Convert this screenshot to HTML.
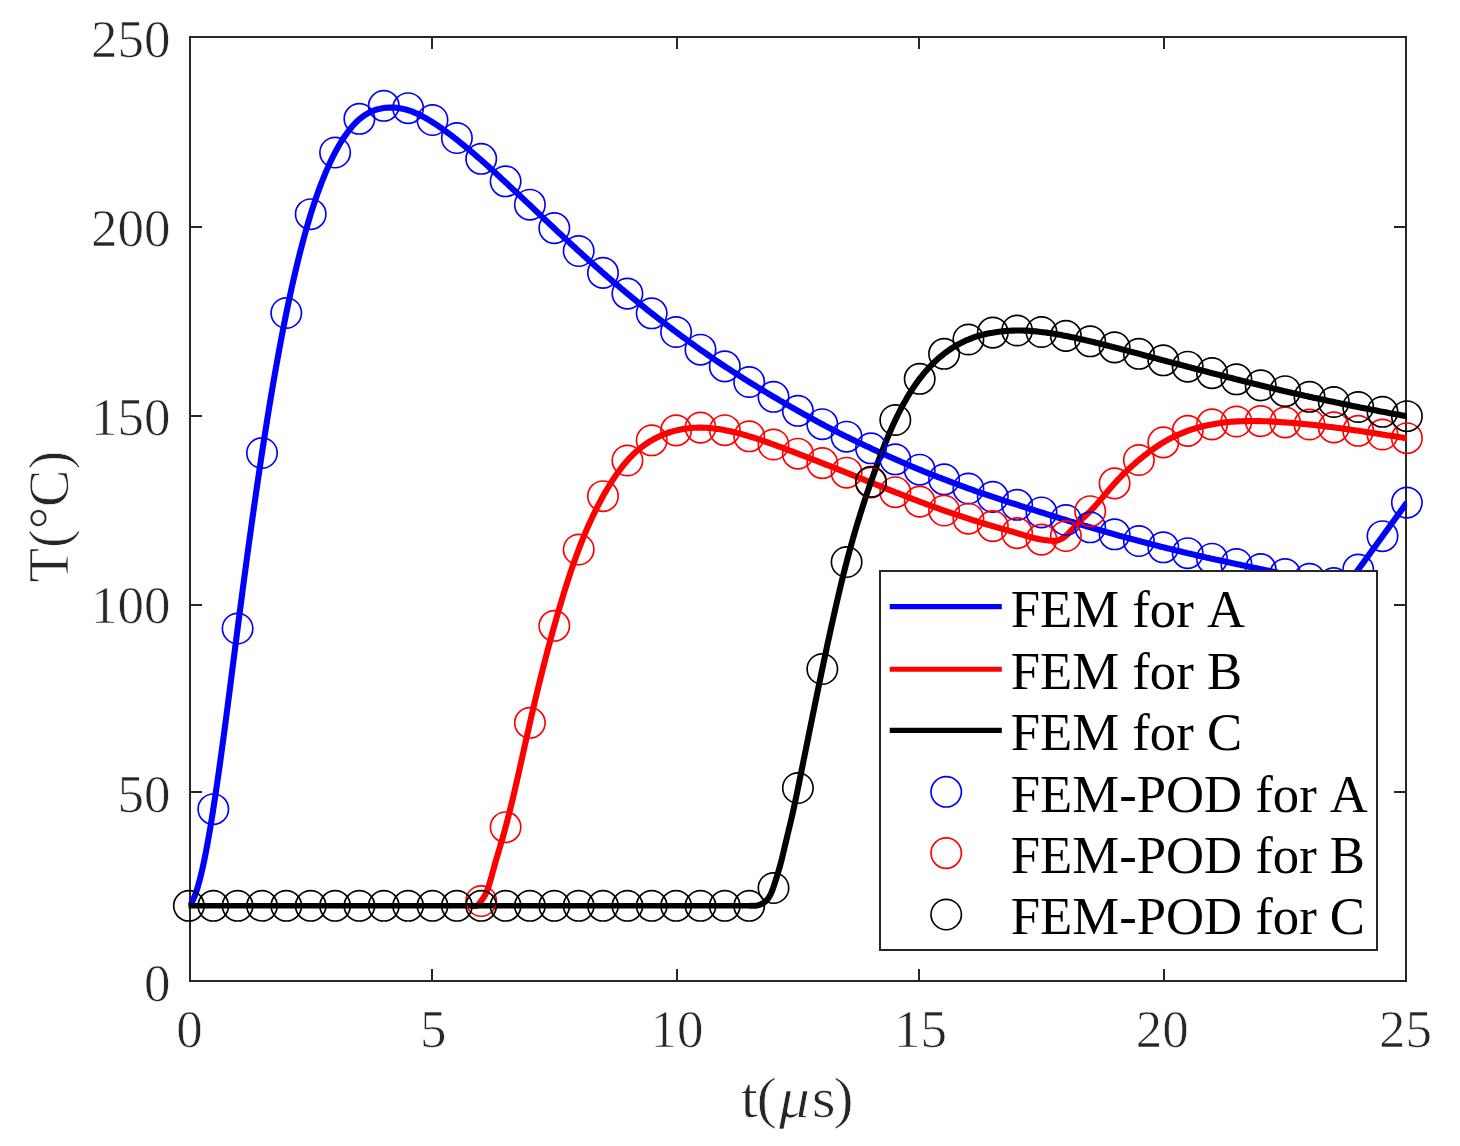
<!DOCTYPE html>
<html lang="en"><head><meta charset="utf-8"><title>T vs t</title>
<style>html,body{margin:0;padding:0;background:#fff}body{width:1460px;height:1146px;overflow:hidden}</style>
</head><body>
<svg width="1460" height="1146" viewBox="0 0 1460 1146" style="display:block;font-kerning:none">
<rect width="1460" height="1146" fill="#fff"/>
<defs><clipPath id="c"><rect x="188.5" y="37" width="1218.6" height="944"/></clipPath><clipPath id="c2"><rect x="170" y="37" width="1256" height="944"/></clipPath></defs>
<g stroke="#262626" stroke-width="2" fill="none" shape-rendering="crispEdges">
<rect x="190" y="37" width="1216" height="944"/>
<line x1="432" y1="981" x2="432" y2="969"/><line x1="432" y1="37" x2="432" y2="49"/>
<line x1="677" y1="981" x2="677" y2="969"/><line x1="677" y1="37" x2="677" y2="49"/>
<line x1="919" y1="981" x2="919" y2="969"/><line x1="919" y1="37" x2="919" y2="49"/>
<line x1="1164" y1="981" x2="1164" y2="969"/><line x1="1164" y1="37" x2="1164" y2="49"/>
<line x1="190" y1="792" x2="202" y2="792"/><line x1="1406" y1="792" x2="1394" y2="792"/>
<line x1="190" y1="605" x2="202" y2="605"/><line x1="1406" y1="605" x2="1394" y2="605"/>
<line x1="190" y1="416" x2="202" y2="416"/><line x1="1406" y1="416" x2="1394" y2="416"/>
<line x1="190" y1="227" x2="202" y2="227"/><line x1="1406" y1="227" x2="1394" y2="227"/>
</g>
<g clip-path="url(#c)" fill="none" stroke-width="6.1" stroke-linejoin="round">
<path d="M188.9,906.0 L190.4,904.4 L191.9,902.1 L193.4,899.1 L194.9,895.5 L196.4,891.3 L197.9,886.5 L199.4,881.2 L200.9,875.3 L202.4,868.9 L203.9,862.0 L205.4,854.6 L206.9,846.8 L208.4,838.5 L209.9,829.9 L211.4,820.9 L212.9,811.5 L214.4,801.8 L215.9,791.8 L217.4,781.6 L218.9,771.1 L220.4,760.3 L221.9,749.4 L223.4,738.3 L224.9,727.0 L226.4,715.6 L227.9,704.1 L229.4,692.5 L230.9,680.8 L232.4,669.1 L233.9,657.4 L235.4,645.7 L236.9,634.1 L238.4,622.5 L239.9,611.0 L241.4,599.5 L242.9,588.2 L244.4,576.9 L245.9,565.8 L247.4,554.7 L248.9,543.7 L250.4,532.9 L251.9,522.1 L253.4,511.5 L254.9,500.9 L256.4,490.5 L257.9,480.3 L259.4,470.1 L260.9,460.1 L262.4,450.3 L263.9,440.5 L265.4,431.0 L266.9,421.5 L268.4,412.2 L269.9,403.1 L271.4,394.1 L272.9,385.3 L274.4,376.6 L275.9,368.0 L277.4,359.7 L278.9,351.4 L280.4,343.4 L281.9,335.5 L283.4,327.7 L284.9,320.1 L286.4,312.7 L287.9,305.4 L289.4,298.3 L290.9,291.4 L292.4,284.6 L293.9,278.0 L295.4,271.5 L296.9,265.2 L298.4,259.1 L299.9,253.1 L301.4,247.2 L302.9,241.5 L304.4,236.0 L305.9,230.5 L307.4,225.3 L308.9,220.2 L310.4,215.2 L311.9,210.4 L313.4,205.7 L314.9,201.2 L316.4,196.8 L317.9,192.5 L319.4,188.4 L320.9,184.4 L322.4,180.5 L323.9,176.8 L325.4,173.1 L326.9,169.6 L328.4,166.2 L329.9,162.9 L331.4,159.8 L332.9,156.7 L334.4,153.8 L335.9,150.9 L337.4,148.2 L338.9,145.5 L340.4,143.0 L341.9,140.6 L343.4,138.2 L344.9,136.0 L346.4,133.9 L347.9,131.8 L349.4,129.9 L350.9,128.0 L352.4,126.3 L353.9,124.6 L355.4,123.0 L356.9,121.5 L358.4,120.1 L359.9,118.8 L361.4,117.6 L362.9,116.5 L364.4,115.4 L365.9,114.5 L367.4,113.6 L368.9,112.8 L370.4,112.0 L371.9,111.3 L373.4,110.7 L374.9,110.2 L376.4,109.7 L377.9,109.2 L379.4,108.9 L380.9,108.5 L382.4,108.3 L383.9,108.0 L385.4,107.8 L386.9,107.7 L388.4,107.6 L389.9,107.6 L391.4,107.5 L392.9,107.6 L394.4,107.6 L395.9,107.8 L397.4,107.9 L398.9,108.1 L400.4,108.4 L401.9,108.6 L403.4,109.0 L404.9,109.3 L406.4,109.7 L407.9,110.2 L409.4,110.7 L410.9,111.2 L412.4,111.7 L413.9,112.3 L415.4,113.0 L416.9,113.6 L418.4,114.3 L419.9,115.0 L421.4,115.8 L422.9,116.6 L424.4,117.4 L425.9,118.2 L427.4,119.1 L428.9,120.0 L430.4,120.9 L431.9,121.8 L433.4,122.8 L434.9,123.7 L436.4,124.7 L437.9,125.7 L439.4,126.8 L440.9,127.8 L442.4,128.9 L443.9,130.0 L445.4,131.1 L446.9,132.2 L448.4,133.3 L449.9,134.4 L451.4,135.5 L452.9,136.7 L454.4,137.9 L455.9,139.0 L457.4,140.2 L458.9,141.4 L460.4,142.6 L461.9,143.8 L463.4,145.0 L464.9,146.3 L466.4,147.5 L467.9,148.8 L469.4,150.0 L470.9,151.3 L472.4,152.5 L473.9,153.8 L475.4,155.1 L476.9,156.4 L478.4,157.7 L479.9,159.0 L481.4,160.3 L482.9,161.6 L484.4,163.0 L485.9,164.3 L487.4,165.6 L488.9,167.0 L490.4,168.4 L491.9,169.7 L493.4,171.1 L494.9,172.5 L496.4,173.8 L497.9,175.2 L499.4,176.6 L500.9,178.0 L502.4,179.4 L503.9,180.8 L505.4,182.2 L506.9,183.6 L508.4,185.0 L509.9,186.4 L511.4,187.8 L512.9,189.2 L514.4,190.6 L515.9,192.0 L517.4,193.4 L518.9,194.8 L520.4,196.2 L521.9,197.6 L523.4,199.1 L524.9,200.5 L526.4,201.9 L527.9,203.3 L529.4,204.7 L530.9,206.2 L532.4,207.6 L533.9,209.0 L535.4,210.4 L536.9,211.9 L538.4,213.3 L539.9,214.7 L541.4,216.1 L542.9,217.6 L544.4,219.0 L545.9,220.4 L547.4,221.8 L548.9,223.3 L550.4,224.7 L551.9,226.1 L553.4,227.5 L554.9,228.9 L556.4,230.4 L557.9,231.8 L559.4,233.2 L560.9,234.6 L562.4,236.0 L563.9,237.4 L565.4,238.8 L566.9,240.2 L568.4,241.6 L569.9,243.0 L571.4,244.4 L572.9,245.7 L574.4,247.1 L575.9,248.5 L577.4,249.9 L578.9,251.3 L580.4,252.6 L581.9,254.0 L583.4,255.4 L584.9,256.7 L586.4,258.1 L587.9,259.4 L589.4,260.8 L590.9,262.1 L592.4,263.5 L593.9,264.8 L595.4,266.2 L596.9,267.5 L598.4,268.8 L599.9,270.1 L601.4,271.5 L602.9,272.8 L604.4,274.1 L605.9,275.4 L607.4,276.7 L608.9,278.0 L610.4,279.3 L611.9,280.6 L613.4,281.9 L614.9,283.1 L616.4,284.4 L617.9,285.7 L619.4,286.9 L620.9,288.2 L622.4,289.5 L623.9,290.7 L625.4,292.0 L626.9,293.2 L628.4,294.5 L629.9,295.7 L631.4,296.9 L632.9,298.2 L634.4,299.4 L635.9,300.6 L637.4,301.8 L638.9,303.1 L640.4,304.3 L641.9,305.5 L643.4,306.7 L644.9,307.9 L646.4,309.1 L647.9,310.3 L649.4,311.5 L650.9,312.6 L652.4,313.8 L653.9,315.0 L655.4,316.2 L656.9,317.4 L658.4,318.5 L659.9,319.7 L661.4,320.8 L662.9,322.0 L664.4,323.1 L665.9,324.3 L667.4,325.4 L668.9,326.6 L670.4,327.7 L671.9,328.8 L673.4,330.0 L674.9,331.1 L676.4,332.2 L677.9,333.3 L679.4,334.5 L680.9,335.6 L682.4,336.7 L683.9,337.8 L685.4,338.9 L686.9,340.0 L688.4,341.1 L689.9,342.2 L691.4,343.2 L692.9,344.3 L694.4,345.4 L695.9,346.5 L697.4,347.5 L698.9,348.6 L700.4,349.7 L701.9,350.7 L703.4,351.8 L704.9,352.8 L706.4,353.9 L707.9,354.9 L709.4,355.9 L710.9,357.0 L712.4,358.0 L713.9,359.0 L715.4,360.0 L716.9,361.1 L718.4,362.1 L719.9,363.1 L721.4,364.1 L722.9,365.1 L724.4,366.1 L725.9,367.1 L727.4,368.0 L728.9,369.0 L730.4,370.0 L731.9,371.0 L733.4,372.0 L734.9,372.9 L736.4,373.9 L737.9,374.8 L739.4,375.8 L740.9,376.8 L742.4,377.7 L743.9,378.7 L745.4,379.6 L746.9,380.5 L748.4,381.5 L749.9,382.4 L751.4,383.3 L752.9,384.3 L754.4,385.2 L755.9,386.1 L757.4,387.0 L758.9,387.9 L760.4,388.9 L761.9,389.8 L763.4,390.7 L764.9,391.6 L766.4,392.5 L767.9,393.4 L769.4,394.3 L770.9,395.2 L772.4,396.1 L773.9,397.0 L775.4,397.8 L776.9,398.7 L778.4,399.6 L779.9,400.5 L781.4,401.4 L782.9,402.2 L784.4,403.1 L785.9,404.0 L787.4,404.8 L788.9,405.7 L790.4,406.6 L791.9,407.4 L793.4,408.3 L794.9,409.1 L796.4,410.0 L797.9,410.8 L799.4,411.7 L800.9,412.5 L802.4,413.4 L803.9,414.2 L805.4,415.0 L806.9,415.8 L808.4,416.7 L809.9,417.5 L811.4,418.3 L812.9,419.1 L814.4,419.9 L815.9,420.8 L817.4,421.6 L818.9,422.4 L820.4,423.2 L821.9,424.0 L823.4,424.8 L824.9,425.6 L826.4,426.4 L827.9,427.2 L829.4,427.9 L830.9,428.7 L832.4,429.5 L833.9,430.3 L835.4,431.1 L836.9,431.8 L838.4,432.6 L839.9,433.4 L841.4,434.1 L842.9,434.9 L844.4,435.6 L845.9,436.4 L847.4,437.1 L848.9,437.8 L850.4,438.6 L851.9,439.3 L853.4,440.0 L854.9,440.8 L856.4,441.5 L857.9,442.2 L859.4,442.9 L860.9,443.6 L862.4,444.3 L863.9,445.0 L865.4,445.7 L866.9,446.4 L868.4,447.1 L869.9,447.8 L871.4,448.5 L872.9,449.2 L874.4,449.9 L875.9,450.6 L877.4,451.3 L878.9,451.9 L880.4,452.6 L881.9,453.3 L883.4,454.0 L884.9,454.6 L886.4,455.3 L887.9,456.0 L889.4,456.7 L890.9,457.3 L892.4,458.0 L893.9,458.7 L895.4,459.3 L896.9,460.0 L898.4,460.6 L899.9,461.3 L901.4,462.0 L902.9,462.6 L904.4,463.3 L905.9,463.9 L907.4,464.6 L908.9,465.2 L910.4,465.8 L911.9,466.5 L913.4,467.1 L914.9,467.7 L916.4,468.4 L917.9,469.0 L919.4,469.6 L920.9,470.2 L922.4,470.8 L923.9,471.5 L925.4,472.1 L926.9,472.7 L928.4,473.3 L929.9,473.8 L931.4,474.4 L932.9,475.0 L934.4,475.6 L935.9,476.2 L937.4,476.8 L938.9,477.4 L940.4,477.9 L941.9,478.5 L943.4,479.1 L944.9,479.7 L946.4,480.2 L947.9,480.8 L949.4,481.4 L950.9,482.0 L952.4,482.5 L953.9,483.1 L955.4,483.7 L956.9,484.2 L958.4,484.8 L959.9,485.3 L961.4,485.9 L962.9,486.4 L964.4,487.0 L965.9,487.5 L967.4,488.1 L968.9,488.6 L970.4,489.2 L971.9,489.7 L973.4,490.2 L974.9,490.8 L976.4,491.3 L977.9,491.8 L979.4,492.3 L980.9,492.9 L982.4,493.4 L983.9,493.9 L985.4,494.4 L986.9,494.9 L988.4,495.4 L989.9,495.9 L991.4,496.4 L992.9,496.9 L994.4,497.4 L995.9,497.9 L997.4,498.4 L998.9,498.9 L1000.4,499.4 L1001.9,499.9 L1003.4,500.4 L1004.9,500.9 L1006.4,501.3 L1007.9,501.8 L1009.4,502.3 L1010.9,502.8 L1012.4,503.3 L1013.9,503.7 L1015.4,504.2 L1016.9,504.7 L1018.4,505.2 L1019.9,505.7 L1021.4,506.1 L1022.9,506.6 L1024.4,507.1 L1025.9,507.5 L1027.4,508.0 L1028.9,508.5 L1030.4,509.0 L1031.9,509.4 L1033.4,509.9 L1034.9,510.4 L1036.4,510.8 L1037.9,511.3 L1039.4,511.8 L1040.9,512.3 L1042.4,512.7 L1043.9,513.2 L1045.4,513.7 L1046.9,514.1 L1048.4,514.6 L1049.9,515.1 L1051.4,515.6 L1052.9,516.0 L1054.4,516.5 L1055.9,517.0 L1057.4,517.4 L1058.9,517.9 L1060.4,518.4 L1061.9,518.8 L1063.4,519.3 L1064.9,519.7 L1066.4,520.2 L1067.9,520.7 L1069.4,521.1 L1070.9,521.6 L1072.4,522.0 L1073.9,522.5 L1075.4,522.9 L1076.9,523.4 L1078.4,523.8 L1079.9,524.3 L1081.4,524.7 L1082.9,525.1 L1084.4,525.6 L1085.9,526.0 L1087.4,526.5 L1088.9,526.9 L1090.4,527.3 L1091.9,527.8 L1093.4,528.2 L1094.9,528.7 L1096.4,529.1 L1097.9,529.5 L1099.4,530.0 L1100.9,530.4 L1102.4,530.8 L1103.9,531.3 L1105.4,531.7 L1106.9,532.1 L1108.4,532.6 L1109.9,533.0 L1111.4,533.4 L1112.9,533.9 L1114.4,534.3 L1115.9,534.7 L1117.4,535.1 L1118.9,535.6 L1120.4,536.0 L1121.9,536.4 L1123.4,536.8 L1124.9,537.2 L1126.4,537.6 L1127.9,538.0 L1129.4,538.4 L1130.9,538.8 L1132.4,539.2 L1133.9,539.6 L1135.4,540.0 L1136.9,540.4 L1138.4,540.8 L1139.9,541.2 L1141.4,541.6 L1142.9,542.0 L1144.4,542.4 L1145.9,542.8 L1147.4,543.2 L1148.9,543.6 L1150.4,544.0 L1151.9,544.4 L1153.4,544.8 L1154.9,545.1 L1156.4,545.5 L1157.9,545.9 L1159.4,546.3 L1160.9,546.7 L1162.4,547.0 L1163.9,547.4 L1165.4,547.8 L1166.9,548.2 L1168.4,548.5 L1169.9,548.9 L1171.4,549.3 L1172.9,549.6 L1174.4,550.0 L1175.9,550.4 L1177.4,550.7 L1178.9,551.1 L1180.4,551.4 L1181.9,551.8 L1183.4,552.2 L1184.9,552.5 L1186.4,552.9 L1187.9,553.2 L1189.4,553.6 L1190.9,553.9 L1192.4,554.3 L1193.9,554.6 L1195.4,555.0 L1196.9,555.3 L1198.4,555.7 L1199.9,556.0 L1201.4,556.3 L1202.9,556.7 L1204.4,557.0 L1205.9,557.4 L1207.4,557.7 L1208.9,558.0 L1210.4,558.4 L1211.9,558.7 L1213.4,559.0 L1214.9,559.4 L1216.4,559.7 L1217.9,560.0 L1219.4,560.3 L1220.9,560.7 L1222.4,561.0 L1223.9,561.3 L1225.4,561.6 L1226.9,562.0 L1228.4,562.3 L1229.9,562.6 L1231.4,562.9 L1232.9,563.2 L1234.4,563.6 L1235.9,563.9 L1237.4,564.2 L1238.9,564.5 L1240.4,564.8 L1241.9,565.2 L1243.4,565.5 L1244.9,565.8 L1246.4,566.1 L1247.9,566.4 L1249.4,566.8 L1250.9,567.1 L1252.4,567.4 L1253.9,567.7 L1255.4,568.0 L1256.9,568.3 L1258.4,568.6 L1259.9,569.0 L1261.4,569.3 L1262.9,569.6 L1264.4,569.9 L1265.9,570.2 L1267.4,570.5 L1268.9,570.8 L1270.4,571.1 L1271.9,571.4 L1273.4,571.7 L1274.9,572.0 L1276.4,572.3 L1277.9,572.7 L1279.4,573.0 L1280.9,573.3 L1282.4,573.6 L1283.9,573.9 L1285.4,574.2 L1286.9,574.5 L1288.4,574.8 L1289.9,575.1 L1291.4,575.4 L1292.9,575.6 L1294.4,575.9 L1295.9,576.2 L1297.4,576.5 L1298.9,576.8 L1300.4,577.1 L1301.9,577.4 L1303.4,577.7 L1304.9,577.9 L1306.4,578.2 L1307.9,578.5 L1309.4,578.8 L1310.9,579.0 L1312.4,579.3 L1313.9,579.6 L1315.4,579.8 L1316.9,580.1 L1318.4,580.4 L1319.9,580.6 L1321.4,580.9 L1322.9,581.1 L1324.4,581.4 L1325.9,581.6 L1327.4,581.9 L1328.9,582.2 L1330.4,582.4 L1331.9,582.7 L1333.4,582.9 L1334.9,583.2 L1336.4,583.4 L1337.9,583.7 L1339.4,584.0 L1340.9,584.2 L1342.4,584.5 L1343.9,584.8 L1345.4,585.1 L1346.7,585.3 L1358.2,569.6 L1382.5,536.2 L1406.9,502.6" stroke="#0000ff"/>
<path d="M470.0,906.0 L474.0,906.0 L475.5,906.0 L477.0,905.6 L478.5,904.5 L480.0,902.7 L481.5,900.6 L483.0,898.5 L484.5,896.1 L486.0,893.3 L487.5,889.7 L489.0,885.2 L490.5,880.2 L492.0,874.7 L493.5,869.3 L495.0,863.9 L496.5,858.7 L498.0,853.6 L499.5,848.5 L501.0,843.4 L502.5,838.3 L504.0,833.0 L505.5,827.5 L507.0,821.9 L508.5,816.1 L510.0,810.1 L511.5,804.0 L513.0,797.7 L514.5,791.3 L516.0,784.8 L517.5,778.3 L519.0,771.6 L520.5,764.9 L522.0,758.2 L523.5,751.5 L525.0,744.7 L526.5,738.0 L528.0,731.3 L529.5,724.7 L531.0,718.1 L532.5,711.6 L534.0,705.2 L535.5,698.9 L537.0,692.6 L538.5,686.4 L540.0,680.3 L541.5,674.3 L543.0,668.3 L544.5,662.4 L546.0,656.6 L547.5,650.8 L549.0,645.2 L550.5,639.6 L552.0,634.1 L553.5,628.6 L555.0,623.3 L556.5,618.0 L558.0,612.7 L559.5,607.6 L561.0,602.6 L562.5,597.6 L564.0,592.7 L565.5,587.9 L567.0,583.2 L568.5,578.5 L570.0,574.0 L571.5,569.5 L573.0,565.1 L574.5,560.9 L576.0,556.7 L577.5,552.6 L579.0,548.6 L580.5,544.7 L582.0,540.9 L583.5,537.2 L585.0,533.6 L586.5,530.0 L588.0,526.6 L589.5,523.2 L591.0,520.0 L592.5,516.7 L594.0,513.6 L595.5,510.6 L597.0,507.6 L598.5,504.7 L600.0,501.8 L601.5,499.0 L603.0,496.3 L604.5,493.6 L606.0,491.0 L607.5,488.5 L609.0,486.0 L610.5,483.5 L612.0,481.2 L613.5,478.9 L615.0,476.6 L616.5,474.4 L618.0,472.3 L619.5,470.3 L621.0,468.3 L622.5,466.3 L624.0,464.5 L625.5,462.7 L627.0,460.9 L628.5,459.3 L630.0,457.6 L631.5,456.1 L633.0,454.6 L634.5,453.2 L636.0,451.8 L637.5,450.5 L639.0,449.2 L640.5,448.0 L642.0,446.8 L643.5,445.7 L645.0,444.6 L646.5,443.6 L648.0,442.6 L649.5,441.6 L651.0,440.7 L652.5,439.9 L654.0,439.0 L655.5,438.2 L657.0,437.5 L658.5,436.7 L660.0,436.0 L661.5,435.4 L663.0,434.7 L664.5,434.1 L666.0,433.6 L667.5,433.0 L669.0,432.5 L670.5,432.0 L672.0,431.6 L673.5,431.1 L675.0,430.7 L676.5,430.4 L678.0,430.0 L679.5,429.7 L681.0,429.4 L682.5,429.1 L684.0,428.9 L685.5,428.6 L687.0,428.4 L688.5,428.2 L690.0,428.1 L691.5,428.0 L693.0,427.8 L694.5,427.8 L696.0,427.7 L697.5,427.6 L699.0,427.6 L700.5,427.6 L702.0,427.6 L703.5,427.7 L705.0,427.7 L706.5,427.8 L708.0,427.9 L709.5,428.0 L711.0,428.2 L712.5,428.3 L714.0,428.5 L715.5,428.7 L717.0,428.9 L718.5,429.1 L720.0,429.3 L721.5,429.6 L723.0,429.8 L724.5,430.1 L726.0,430.4 L727.5,430.7 L729.0,431.0 L730.5,431.3 L732.0,431.7 L733.5,432.0 L735.0,432.4 L736.5,432.8 L738.0,433.1 L739.5,433.5 L741.0,433.9 L742.5,434.3 L744.0,434.8 L745.5,435.2 L747.0,435.6 L748.5,436.1 L750.0,436.5 L751.5,437.0 L753.0,437.5 L754.5,437.9 L756.0,438.4 L757.5,438.9 L759.0,439.4 L760.5,439.9 L762.0,440.4 L763.5,440.9 L765.0,441.5 L766.5,442.0 L768.0,442.5 L769.5,443.0 L771.0,443.6 L772.5,444.1 L774.0,444.7 L775.5,445.2 L777.0,445.8 L778.5,446.3 L780.0,446.9 L781.5,447.4 L783.0,448.0 L784.5,448.6 L786.0,449.1 L787.5,449.7 L789.0,450.3 L790.5,450.8 L792.0,451.4 L793.5,452.0 L795.0,452.5 L796.5,453.1 L798.0,453.7 L799.5,454.3 L801.0,454.9 L802.5,455.4 L804.0,456.0 L805.5,456.6 L807.0,457.2 L808.5,457.7 L810.0,458.3 L811.5,458.9 L813.0,459.5 L814.5,460.1 L816.0,460.7 L817.5,461.2 L819.0,461.8 L820.5,462.4 L822.0,463.0 L823.5,463.6 L825.0,464.2 L826.5,464.8 L828.0,465.4 L829.5,465.9 L831.0,466.5 L832.5,467.1 L834.0,467.7 L835.5,468.3 L837.0,468.9 L838.5,469.5 L840.0,470.1 L841.5,470.7 L843.0,471.3 L844.5,471.9 L846.0,472.5 L847.5,473.1 L849.0,473.7 L850.5,474.3 L852.0,474.9 L853.5,475.5 L855.0,476.1 L856.5,476.7 L858.0,477.3 L859.5,477.9 L861.0,478.5 L862.5,479.1 L864.0,479.7 L865.5,480.3 L867.0,480.9 L868.5,481.5 L870.0,482.1 L871.5,482.7 L873.0,483.3 L874.5,483.9 L876.0,484.5 L877.5,485.1 L879.0,485.7 L880.5,486.3 L882.0,486.9 L883.5,487.5 L885.0,488.1 L886.5,488.7 L888.0,489.3 L889.5,489.9 L891.0,490.5 L892.5,491.1 L894.0,491.7 L895.5,492.3 L897.0,492.8 L898.5,493.4 L900.0,494.0 L901.5,494.6 L903.0,495.2 L904.5,495.8 L906.0,496.4 L907.5,497.0 L909.0,497.5 L910.5,498.1 L912.0,498.7 L913.5,499.3 L915.0,499.8 L916.5,500.4 L918.0,501.0 L919.5,501.6 L921.0,502.1 L922.5,502.7 L924.0,503.2 L925.5,503.8 L927.0,504.4 L928.5,504.9 L930.0,505.5 L931.5,506.0 L933.0,506.6 L934.5,507.1 L936.0,507.7 L937.5,508.2 L939.0,508.7 L940.5,509.3 L942.0,509.8 L943.5,510.3 L945.0,510.8 L946.5,511.4 L948.0,511.9 L949.5,512.4 L951.0,512.9 L952.5,513.4 L954.0,513.9 L955.5,514.4 L957.0,514.9 L958.5,515.4 L960.0,515.9 L961.5,516.4 L963.0,516.9 L964.5,517.4 L966.0,517.9 L967.5,518.4 L969.0,518.8 L970.5,519.3 L972.0,519.8 L973.5,520.3 L975.0,520.8 L976.5,521.2 L978.0,521.7 L979.5,522.2 L981.0,522.6 L982.5,523.1 L984.0,523.5 L985.5,524.0 L987.0,524.5 L988.5,524.9 L990.0,525.3 L991.5,525.8 L993.0,526.2 L994.5,526.6 L996.0,527.1 L997.5,527.5 L999.0,527.9 L1000.5,528.3 L1002.0,528.8 L1003.5,529.2 L1005.0,529.6 L1006.5,530.0 L1008.0,530.4 L1009.5,530.9 L1011.0,531.3 L1012.5,531.7 L1014.0,532.2 L1015.5,532.6 L1017.0,533.1 L1018.5,533.5 L1020.0,534.0 L1021.5,534.4 L1023.0,534.9 L1024.5,535.3 L1026.0,535.8 L1027.5,536.2 L1029.0,536.7 L1030.5,537.1 L1032.0,537.5 L1033.5,537.9 L1035.0,538.3 L1036.5,538.6 L1038.0,538.9 L1039.5,539.2 L1041.0,539.5 L1042.5,539.8 L1044.0,540.0 L1045.5,540.2 L1047.0,540.3 L1048.5,540.5 L1050.0,540.7 L1051.5,540.8 L1053.0,540.9 L1054.0,540.9 L1055.5,540.8 L1057.0,540.5 L1058.5,540.1 L1060.0,539.5 L1061.5,538.8 L1063.0,537.9 L1064.5,536.9 L1066.0,535.7 L1067.5,534.4 L1069.0,532.9 L1070.5,531.3 L1072.0,529.6 L1073.5,527.9 L1075.0,526.2 L1076.5,524.6 L1078.0,523.0 L1079.5,521.5 L1081.0,520.0 L1082.5,518.6 L1084.0,517.2 L1085.5,515.8 L1087.0,514.3 L1088.5,512.9 L1090.0,511.4 L1091.5,509.9 L1093.0,508.3 L1094.5,506.7 L1096.0,505.0 L1097.5,503.3 L1099.0,501.6 L1100.5,499.9 L1102.0,498.1 L1103.5,496.3 L1105.0,494.5 L1106.5,492.8 L1108.0,491.0 L1109.5,489.2 L1111.0,487.5 L1112.5,485.8 L1114.0,484.0 L1115.5,482.4 L1117.0,480.7 L1118.5,479.1 L1120.0,477.6 L1121.5,476.0 L1123.0,474.5 L1124.5,473.0 L1126.0,471.6 L1127.5,470.1 L1129.0,468.7 L1130.5,467.4 L1132.0,466.0 L1133.5,464.7 L1135.0,463.4 L1136.5,462.1 L1138.0,460.8 L1139.5,459.5 L1141.0,458.3 L1142.5,457.1 L1144.0,455.9 L1145.5,454.7 L1147.0,453.6 L1148.5,452.4 L1150.0,451.3 L1151.5,450.2 L1153.0,449.1 L1154.5,448.1 L1156.0,447.1 L1157.5,446.1 L1159.0,445.1 L1160.5,444.1 L1162.0,443.2 L1163.5,442.3 L1165.0,441.4 L1166.5,440.6 L1168.0,439.7 L1169.5,438.9 L1171.0,438.1 L1172.5,437.4 L1174.0,436.6 L1175.5,435.9 L1177.0,435.2 L1178.5,434.6 L1180.0,433.9 L1181.5,433.3 L1183.0,432.7 L1184.5,432.1 L1186.0,431.5 L1187.5,431.0 L1189.0,430.4 L1190.5,429.9 L1192.0,429.4 L1193.5,428.9 L1195.0,428.5 L1196.5,428.0 L1198.0,427.6 L1199.5,427.2 L1201.0,426.8 L1202.5,426.4 L1204.0,426.0 L1205.5,425.7 L1207.0,425.4 L1208.5,425.0 L1210.0,424.7 L1211.5,424.4 L1213.0,424.2 L1214.5,423.9 L1216.0,423.7 L1217.5,423.4 L1219.0,423.2 L1220.5,423.0 L1222.0,422.8 L1223.5,422.6 L1225.0,422.4 L1226.5,422.3 L1228.0,422.1 L1229.5,422.0 L1231.0,421.8 L1232.5,421.7 L1234.0,421.6 L1235.5,421.5 L1237.0,421.4 L1238.5,421.4 L1240.0,421.3 L1241.5,421.2 L1243.0,421.2 L1244.5,421.1 L1246.0,421.1 L1247.5,421.1 L1249.0,421.0 L1250.5,421.0 L1252.0,421.0 L1253.5,421.0 L1255.0,421.0 L1256.5,421.1 L1258.0,421.1 L1259.5,421.1 L1261.0,421.1 L1262.5,421.2 L1264.0,421.2 L1265.5,421.3 L1267.0,421.3 L1268.5,421.4 L1270.0,421.5 L1271.5,421.5 L1273.0,421.6 L1274.5,421.7 L1276.0,421.8 L1277.5,421.9 L1279.0,422.0 L1280.5,422.1 L1282.0,422.2 L1283.5,422.3 L1285.0,422.4 L1286.5,422.5 L1288.0,422.6 L1289.5,422.7 L1291.0,422.8 L1292.5,422.9 L1294.0,423.1 L1295.5,423.2 L1297.0,423.3 L1298.5,423.5 L1300.0,423.6 L1301.5,423.7 L1303.0,423.9 L1304.5,424.0 L1306.0,424.2 L1307.5,424.3 L1309.0,424.5 L1310.5,424.6 L1312.0,424.8 L1313.5,425.0 L1315.0,425.1 L1316.5,425.3 L1318.0,425.5 L1319.5,425.6 L1321.0,425.8 L1322.5,426.0 L1324.0,426.2 L1325.5,426.4 L1327.0,426.6 L1328.5,426.7 L1330.0,426.9 L1331.5,427.1 L1333.0,427.3 L1334.5,427.5 L1336.0,427.7 L1337.5,427.9 L1339.0,428.1 L1340.5,428.3 L1342.0,428.5 L1343.5,428.7 L1345.0,428.9 L1346.5,429.1 L1348.0,429.3 L1349.5,429.6 L1351.0,429.8 L1352.5,430.0 L1354.0,430.2 L1355.5,430.4 L1357.0,430.6 L1358.5,430.8 L1360.0,431.1 L1361.5,431.3 L1363.0,431.5 L1364.5,431.7 L1366.0,432.0 L1367.5,432.2 L1369.0,432.4 L1370.5,432.6 L1372.0,432.9 L1373.5,433.1 L1375.0,433.3 L1376.5,433.5 L1378.0,433.8 L1379.5,434.0 L1381.0,434.2 L1382.5,434.5 L1384.0,434.7 L1385.5,434.9 L1387.0,435.2 L1388.5,435.4 L1390.0,435.6 L1391.5,435.9 L1393.0,436.1 L1394.5,436.3 L1396.0,436.6 L1397.5,436.8 L1399.0,437.0 L1400.5,437.3 L1402.0,437.5 L1403.5,437.7 L1405.0,438.0 L1406.5,438.2 L1406.9,438.2" stroke="#ff0000"/>
<path d="M750.0,905.8 L754.0,905.8 L755.5,905.7 L757.0,905.5 L758.5,905.1 L760.0,904.6 L761.5,904.0 L763.0,903.2 L764.5,902.2 L766.0,900.9 L767.5,899.3 L769.0,897.2 L770.5,894.6 L772.0,891.1 L773.5,887.0 L775.0,882.5 L776.5,877.8 L778.0,872.9 L779.5,867.7 L781.0,862.2 L782.5,856.2 L784.0,849.9 L785.5,843.5 L787.0,837.2 L788.5,830.9 L790.0,824.7 L791.5,818.4 L793.0,811.8 L794.5,804.9 L796.0,797.8 L797.5,790.5 L799.0,783.1 L800.5,775.7 L802.0,768.3 L803.5,760.9 L805.0,753.5 L806.5,746.1 L808.0,738.6 L809.5,731.2 L811.0,723.8 L812.5,716.4 L814.0,709.1 L815.5,701.7 L817.0,694.4 L818.5,687.1 L820.0,679.9 L821.5,672.6 L823.0,665.5 L824.5,658.3 L826.0,651.3 L827.5,644.2 L829.0,637.3 L830.5,630.4 L832.0,623.6 L833.5,616.8 L835.0,610.2 L836.5,603.6 L838.0,597.1 L839.5,590.8 L841.0,584.5 L842.5,578.3 L844.0,572.3 L845.5,566.3 L847.0,560.5 L848.5,554.9 L850.0,549.3 L851.5,543.9 L853.0,538.5 L854.5,533.3 L856.0,528.2 L857.5,523.2 L859.0,518.3 L860.5,513.4 L862.0,508.7 L863.5,504.0 L865.0,499.4 L866.5,494.9 L868.0,490.4 L869.5,486.0 L871.0,481.7 L872.5,477.4 L874.0,473.2 L875.5,469.0 L877.0,464.9 L878.5,460.8 L880.0,456.8 L881.5,452.9 L883.0,449.0 L884.5,445.2 L886.0,441.5 L887.5,437.8 L889.0,434.2 L890.5,430.7 L892.0,427.3 L893.5,424.0 L895.0,420.7 L896.5,417.6 L898.0,414.5 L899.5,411.5 L901.0,408.6 L902.5,405.8 L904.0,403.0 L905.5,400.4 L907.0,397.8 L908.5,395.3 L910.0,392.8 L911.5,390.5 L913.0,388.2 L914.5,386.0 L916.0,383.8 L917.5,381.7 L919.0,379.7 L920.5,377.7 L922.0,375.8 L923.5,373.9 L925.0,372.1 L926.5,370.4 L928.0,368.7 L929.5,367.1 L931.0,365.5 L932.5,364.0 L934.0,362.5 L935.5,361.1 L937.0,359.7 L938.5,358.3 L940.0,357.0 L941.5,355.8 L943.0,354.6 L944.5,353.4 L946.0,352.3 L947.5,351.2 L949.0,350.1 L950.5,349.1 L952.0,348.1 L953.5,347.2 L955.0,346.3 L956.5,345.4 L958.0,344.5 L959.5,343.7 L961.0,342.9 L962.5,342.2 L964.0,341.5 L965.5,340.8 L967.0,340.1 L968.5,339.5 L970.0,338.9 L971.5,338.3 L973.0,337.7 L974.5,337.2 L976.0,336.7 L977.5,336.2 L979.0,335.8 L980.5,335.3 L982.0,334.9 L983.5,334.6 L985.0,334.2 L986.5,333.8 L988.0,333.5 L989.5,333.2 L991.0,332.9 L992.5,332.7 L994.0,332.4 L995.5,332.2 L997.0,331.9 L998.5,331.7 L1000.0,331.6 L1001.5,331.4 L1003.0,331.2 L1004.5,331.1 L1006.0,331.0 L1007.5,330.8 L1009.0,330.8 L1010.5,330.7 L1012.0,330.6 L1013.5,330.6 L1015.0,330.5 L1016.5,330.5 L1018.0,330.5 L1019.5,330.5 L1021.0,330.5 L1022.5,330.5 L1024.0,330.6 L1025.5,330.6 L1027.0,330.7 L1028.5,330.8 L1030.0,330.9 L1031.5,331.0 L1033.0,331.1 L1034.5,331.3 L1036.0,331.4 L1037.5,331.5 L1039.0,331.7 L1040.5,331.9 L1042.0,332.1 L1043.5,332.2 L1045.0,332.4 L1046.5,332.6 L1048.0,332.9 L1049.5,333.1 L1051.0,333.3 L1052.5,333.5 L1054.0,333.8 L1055.5,334.0 L1057.0,334.3 L1058.5,334.6 L1060.0,334.8 L1061.5,335.1 L1063.0,335.4 L1064.5,335.7 L1066.0,336.0 L1067.5,336.3 L1069.0,336.6 L1070.5,336.9 L1072.0,337.2 L1073.5,337.5 L1075.0,337.8 L1076.5,338.1 L1078.0,338.5 L1079.5,338.8 L1081.0,339.1 L1082.5,339.5 L1084.0,339.8 L1085.5,340.2 L1087.0,340.5 L1088.5,340.9 L1090.0,341.2 L1091.5,341.6 L1093.0,341.9 L1094.5,342.3 L1096.0,342.7 L1097.5,343.0 L1099.0,343.4 L1100.5,343.8 L1102.0,344.2 L1103.5,344.5 L1105.0,344.9 L1106.5,345.3 L1108.0,345.7 L1109.5,346.1 L1111.0,346.5 L1112.5,346.9 L1114.0,347.2 L1115.5,347.6 L1117.0,348.0 L1118.5,348.4 L1120.0,348.8 L1121.5,349.2 L1123.0,349.6 L1124.5,350.0 L1126.0,350.4 L1127.5,350.8 L1129.0,351.2 L1130.5,351.6 L1132.0,352.0 L1133.5,352.4 L1135.0,352.8 L1136.5,353.1 L1138.0,353.5 L1139.5,353.9 L1141.0,354.4 L1142.5,354.8 L1144.0,355.2 L1145.5,355.6 L1147.0,356.0 L1148.5,356.4 L1150.0,356.8 L1151.5,357.2 L1153.0,357.6 L1154.5,358.0 L1156.0,358.4 L1157.5,358.8 L1159.0,359.2 L1160.5,359.6 L1162.0,360.0 L1163.5,360.4 L1165.0,360.8 L1166.5,361.2 L1168.0,361.6 L1169.5,362.0 L1171.0,362.4 L1172.5,362.8 L1174.0,363.2 L1175.5,363.5 L1177.0,363.9 L1178.5,364.3 L1180.0,364.7 L1181.5,365.1 L1183.0,365.5 L1184.5,365.9 L1186.0,366.3 L1187.5,366.7 L1189.0,367.1 L1190.5,367.5 L1192.0,367.9 L1193.5,368.3 L1195.0,368.7 L1196.5,369.1 L1198.0,369.4 L1199.5,369.8 L1201.0,370.2 L1202.5,370.6 L1204.0,371.0 L1205.5,371.4 L1207.0,371.8 L1208.5,372.2 L1210.0,372.6 L1211.5,373.0 L1213.0,373.4 L1214.5,373.7 L1216.0,374.1 L1217.5,374.5 L1219.0,374.9 L1220.5,375.3 L1222.0,375.7 L1223.5,376.0 L1225.0,376.4 L1226.5,376.8 L1228.0,377.2 L1229.5,377.6 L1231.0,377.9 L1232.5,378.3 L1234.0,378.7 L1235.5,379.1 L1237.0,379.5 L1238.5,379.8 L1240.0,380.2 L1241.5,380.6 L1243.0,381.0 L1244.5,381.3 L1246.0,381.7 L1247.5,382.1 L1249.0,382.5 L1250.5,382.8 L1252.0,383.2 L1253.5,383.6 L1255.0,384.0 L1256.5,384.3 L1258.0,384.7 L1259.5,385.1 L1261.0,385.5 L1262.5,385.8 L1264.0,386.2 L1265.5,386.6 L1267.0,386.9 L1268.5,387.3 L1270.0,387.6 L1271.5,388.0 L1273.0,388.4 L1274.5,388.7 L1276.0,389.1 L1277.5,389.4 L1279.0,389.8 L1280.5,390.2 L1282.0,390.5 L1283.5,390.9 L1285.0,391.2 L1286.5,391.6 L1288.0,391.9 L1289.5,392.3 L1291.0,392.6 L1292.5,393.0 L1294.0,393.3 L1295.5,393.6 L1297.0,394.0 L1298.5,394.3 L1300.0,394.7 L1301.5,395.0 L1303.0,395.3 L1304.5,395.7 L1306.0,396.0 L1307.5,396.3 L1309.0,396.7 L1310.5,397.0 L1312.0,397.3 L1313.5,397.7 L1315.0,398.0 L1316.5,398.3 L1318.0,398.6 L1319.5,399.0 L1321.0,399.3 L1322.5,399.6 L1324.0,399.9 L1325.5,400.2 L1327.0,400.6 L1328.5,400.9 L1330.0,401.2 L1331.5,401.5 L1333.0,401.8 L1334.5,402.1 L1336.0,402.5 L1337.5,402.8 L1339.0,403.1 L1340.5,403.4 L1342.0,403.7 L1343.5,404.0 L1345.0,404.3 L1346.5,404.6 L1348.0,404.9 L1349.5,405.2 L1351.0,405.6 L1352.5,405.9 L1354.0,406.2 L1355.5,406.5 L1357.0,406.8 L1358.5,407.1 L1360.0,407.4 L1361.5,407.7 L1363.0,408.0 L1364.5,408.3 L1366.0,408.6 L1367.5,408.8 L1369.0,409.1 L1370.5,409.4 L1372.0,409.7 L1373.5,410.0 L1375.0,410.3 L1376.5,410.6 L1378.0,410.9 L1379.5,411.2 L1381.0,411.5 L1382.5,411.7 L1384.0,412.0 L1385.5,412.3 L1387.0,412.6 L1388.5,412.9 L1390.0,413.2 L1391.5,413.4 L1393.0,413.7 L1394.5,414.0 L1396.0,414.3 L1397.5,414.5 L1399.0,414.8 L1400.5,415.1 L1402.0,415.4 L1403.5,415.6 L1405.0,415.9 L1406.5,416.2 L1406.9,416.2" stroke="#000000"/>
<path d="M188,905.8 L751,905.8" stroke="#000000" stroke-width="5.5"/>
</g>
<g fill="none" stroke="#0000ff" stroke-width="1.65">
<circle cx="213.3" cy="809.2" r="15.2"/>
<circle cx="237.6" cy="628.5" r="15.2"/>
<circle cx="262.0" cy="453.0" r="15.2"/>
<circle cx="286.3" cy="313.0" r="15.2"/>
<circle cx="310.7" cy="214.2" r="15.2"/>
<circle cx="335.1" cy="152.5" r="15.2"/>
<circle cx="359.4" cy="118.8" r="15.2"/>
<circle cx="383.8" cy="105.8" r="15.2"/>
<circle cx="408.1" cy="108.2" r="15.2"/>
<circle cx="432.5" cy="120.0" r="15.2"/>
<circle cx="456.9" cy="138.0" r="15.2"/>
<circle cx="481.2" cy="158.8" r="15.2"/>
<circle cx="505.6" cy="181.3" r="15.2"/>
<circle cx="529.9" cy="204.7" r="15.2"/>
<circle cx="554.3" cy="228.1" r="15.2"/>
<circle cx="578.7" cy="251.0" r="15.2"/>
<circle cx="603.0" cy="272.9" r="15.2"/>
<circle cx="627.4" cy="293.6" r="15.2"/>
<circle cx="651.7" cy="313.3" r="15.2"/>
<circle cx="676.1" cy="332.0" r="15.2"/>
<circle cx="700.5" cy="349.7" r="15.2"/>
<circle cx="724.8" cy="366.4" r="15.2"/>
<circle cx="749.2" cy="382.0" r="15.2"/>
<circle cx="773.5" cy="396.8" r="15.2"/>
<circle cx="797.9" cy="410.8" r="15.2"/>
<circle cx="822.3" cy="424.2" r="15.2"/>
<circle cx="846.6" cy="436.7" r="15.2"/>
<circle cx="871.0" cy="448.3" r="15.2"/>
<circle cx="895.3" cy="459.3" r="15.2"/>
<circle cx="919.7" cy="469.7" r="15.2"/>
<circle cx="944.1" cy="479.4" r="15.2"/>
<circle cx="968.4" cy="488.5" r="15.2"/>
<circle cx="992.8" cy="496.9" r="15.2"/>
<circle cx="1017.1" cy="504.8" r="15.2"/>
<circle cx="1041.5" cy="512.4" r="15.2"/>
<circle cx="1065.9" cy="520.0" r="15.2"/>
<circle cx="1090.2" cy="527.3" r="15.2"/>
<circle cx="1114.6" cy="534.3" r="15.2"/>
<circle cx="1138.9" cy="541.0" r="15.2"/>
<circle cx="1163.3" cy="547.3" r="15.2"/>
<circle cx="1187.7" cy="553.2" r="15.2"/>
<circle cx="1212.0" cy="558.7" r="15.2"/>
<circle cx="1236.4" cy="564.0" r="15.2"/>
<circle cx="1260.7" cy="569.1" r="15.2"/>
<circle cx="1285.1" cy="574.1" r="15.2"/>
<circle cx="1309.5" cy="578.8" r="15.2"/>
<circle cx="1333.8" cy="583.0" r="15.2"/>
<circle cx="1358.2" cy="569.6" r="15.2"/>
<circle cx="1382.5" cy="536.2" r="15.2"/>
<circle cx="1406.9" cy="502.6" r="15.2"/>
</g>
<g fill="none" stroke="#ff0000" stroke-width="1.65">
<circle cx="481.2" cy="901.0" r="15.2"/>
<circle cx="505.6" cy="827.2" r="15.2"/>
<circle cx="529.9" cy="722.8" r="15.2"/>
<circle cx="554.3" cy="625.8" r="15.2"/>
<circle cx="578.7" cy="549.5" r="15.2"/>
<circle cx="603.0" cy="496.2" r="15.2"/>
<circle cx="627.4" cy="460.5" r="15.2"/>
<circle cx="651.7" cy="440.3" r="15.2"/>
<circle cx="676.1" cy="430.4" r="15.2"/>
<circle cx="700.5" cy="427.6" r="15.2"/>
<circle cx="724.8" cy="430.2" r="15.2"/>
<circle cx="749.2" cy="436.3" r="15.2"/>
<circle cx="773.5" cy="444.5" r="15.2"/>
<circle cx="797.9" cy="453.7" r="15.2"/>
<circle cx="822.3" cy="463.1" r="15.2"/>
<circle cx="846.6" cy="472.7" r="15.2"/>
<circle cx="871.0" cy="482.5" r="15.2"/>
<circle cx="895.3" cy="492.2" r="15.2"/>
<circle cx="919.7" cy="501.6" r="15.2"/>
<circle cx="944.1" cy="510.5" r="15.2"/>
<circle cx="968.4" cy="518.7" r="15.2"/>
<circle cx="992.8" cy="526.1" r="15.2"/>
<circle cx="1017.1" cy="533.1" r="15.2"/>
<circle cx="1041.5" cy="539.6" r="15.2"/>
<circle cx="1065.9" cy="536.0" r="15.2"/>
<circle cx="1090.2" cy="511.2" r="15.2"/>
<circle cx="1114.6" cy="483.4" r="15.2"/>
<circle cx="1138.9" cy="460.0" r="15.2"/>
<circle cx="1163.3" cy="442.4" r="15.2"/>
<circle cx="1187.7" cy="430.9" r="15.2"/>
<circle cx="1212.0" cy="424.4" r="15.2"/>
<circle cx="1236.4" cy="421.5" r="15.2"/>
<circle cx="1260.7" cy="421.1" r="15.2"/>
<circle cx="1285.1" cy="422.4" r="15.2"/>
<circle cx="1309.5" cy="424.5" r="15.2"/>
<circle cx="1333.8" cy="427.4" r="15.2"/>
<circle cx="1358.2" cy="430.8" r="15.2"/>
<circle cx="1382.5" cy="434.5" r="15.2"/>
<circle cx="1406.9" cy="438.2" r="15.2"/>
</g>
<g fill="none" stroke="#000000" stroke-width="1.65">
<circle cx="188.9" cy="905.8" r="15.2"/>
<circle cx="213.3" cy="905.8" r="15.2"/>
<circle cx="237.6" cy="905.8" r="15.2"/>
<circle cx="262.0" cy="905.8" r="15.2"/>
<circle cx="286.3" cy="905.8" r="15.2"/>
<circle cx="310.7" cy="905.8" r="15.2"/>
<circle cx="335.1" cy="905.8" r="15.2"/>
<circle cx="359.4" cy="905.8" r="15.2"/>
<circle cx="383.8" cy="905.8" r="15.2"/>
<circle cx="408.1" cy="905.8" r="15.2"/>
<circle cx="432.5" cy="905.8" r="15.2"/>
<circle cx="456.9" cy="905.8" r="15.2"/>
<circle cx="481.2" cy="905.8" r="15.2"/>
<circle cx="505.6" cy="905.8" r="15.2"/>
<circle cx="529.9" cy="905.8" r="15.2"/>
<circle cx="554.3" cy="905.8" r="15.2"/>
<circle cx="578.7" cy="905.8" r="15.2"/>
<circle cx="603.0" cy="905.8" r="15.2"/>
<circle cx="627.4" cy="905.8" r="15.2"/>
<circle cx="651.7" cy="905.8" r="15.2"/>
<circle cx="676.1" cy="905.8" r="15.2"/>
<circle cx="700.5" cy="905.8" r="15.2"/>
<circle cx="724.8" cy="905.8" r="15.2"/>
<circle cx="749.2" cy="905.8" r="15.2"/>
<circle cx="773.5" cy="888.0" r="15.2"/>
<circle cx="797.9" cy="788.0" r="15.2"/>
<circle cx="822.3" cy="669.0" r="15.2"/>
<circle cx="846.6" cy="562.0" r="15.2"/>
<circle cx="871.0" cy="481.8" r="15.2"/>
<circle cx="895.3" cy="420.0" r="15.2"/>
<circle cx="919.7" cy="378.8" r="15.2"/>
<circle cx="944.1" cy="353.8" r="15.2"/>
<circle cx="968.4" cy="339.5" r="15.2"/>
<circle cx="992.8" cy="332.6" r="15.2"/>
<circle cx="1017.1" cy="330.5" r="15.2"/>
<circle cx="1041.5" cy="332.0" r="15.2"/>
<circle cx="1065.9" cy="335.9" r="15.2"/>
<circle cx="1090.2" cy="341.3" r="15.2"/>
<circle cx="1114.6" cy="347.4" r="15.2"/>
<circle cx="1138.9" cy="353.8" r="15.2"/>
<circle cx="1163.3" cy="360.3" r="15.2"/>
<circle cx="1187.7" cy="366.7" r="15.2"/>
<circle cx="1212.0" cy="373.1" r="15.2"/>
<circle cx="1236.4" cy="379.3" r="15.2"/>
<circle cx="1260.7" cy="385.4" r="15.2"/>
<circle cx="1285.1" cy="391.2" r="15.2"/>
<circle cx="1309.5" cy="396.8" r="15.2"/>
<circle cx="1333.8" cy="402.0" r="15.2"/>
<circle cx="1358.2" cy="407.0" r="15.2"/>
<circle cx="1382.5" cy="411.8" r="15.2"/>
<circle cx="1406.9" cy="416.2" r="15.2"/>
</g>
<rect x="880" y="571" width="497" height="379" fill="#fff" stroke="#262626" stroke-width="2" shape-rendering="crispEdges"/>
<line x1="889.7" y1="606.6" x2="1001.8" y2="606.6" stroke="#0000ff" stroke-width="5.1"/>
<line x1="889.7" y1="669.2" x2="1001.8" y2="669.2" stroke="#ff0000" stroke-width="5.1"/>
<line x1="889.7" y1="730.4" x2="1001.8" y2="730.4" stroke="#000000" stroke-width="5.1"/>
<circle cx="946.2" cy="791.8" r="15.2" fill="none" stroke="#0000ff" stroke-width="1.65"/>
<circle cx="946.2" cy="853.1" r="15.2" fill="none" stroke="#ff0000" stroke-width="1.65"/>
<circle cx="946.2" cy="914.5" r="15.2" fill="none" stroke="#000000" stroke-width="1.65"/>
<g font-family="'Liberation Serif', serif" font-size="52.7" fill="#000">
<text x="1010.8" y="627.2">FEM for A</text>
<text x="1010.8" y="688.6">FEM for B</text>
<text x="1010.8" y="749.7">FEM for C</text>
<text x="1010.8" y="812.0">FEM-POD for A</text>
<text x="1010.8" y="873.0">FEM-POD for B</text>
<text x="1010.8" y="934.2">FEM-POD for C</text>
</g>
<g font-family="'Liberation Serif', serif" font-size="53" fill="#262626" stroke="#fff" stroke-width="0.7">
<text x="189.5" y="1047.2" text-anchor="middle">0</text>
<text x="433.3" y="1047.2" text-anchor="middle">5</text>
<text x="677" y="1047.2" text-anchor="middle">10</text>
<text x="920.5" y="1047.2" text-anchor="middle">15</text>
<text x="1162.3" y="1047.2" text-anchor="middle">20</text>
<text x="1405.5" y="1047.2" text-anchor="middle">25</text>
<text x="170.5" y="1000.5" text-anchor="end">0</text>
<text x="170.5" y="811.9" text-anchor="end">50</text>
<text x="170.5" y="623.2" text-anchor="end">100</text>
<text x="170.5" y="434.6" text-anchor="end">150</text>
<text x="170.5" y="245.9" text-anchor="end">200</text>
<text x="170.5" y="57.2" text-anchor="end">250</text>
<text transform="translate(796,1117) scale(1.095,1)" text-anchor="middle" font-size="56"><tspan dx="1.1">t</tspan><tspan dx="-1.1">(</tspan><tspan font-style="italic" dx="1.9">μ</tspan><tspan dx="1.9">s</tspan><tspan dx="-2.2">)</tspan></text>
<text transform="translate(68.3,516.5) rotate(-90)" text-anchor="middle" font-size="56">T(°C)</text>
</g>
</svg>
</body></html>
